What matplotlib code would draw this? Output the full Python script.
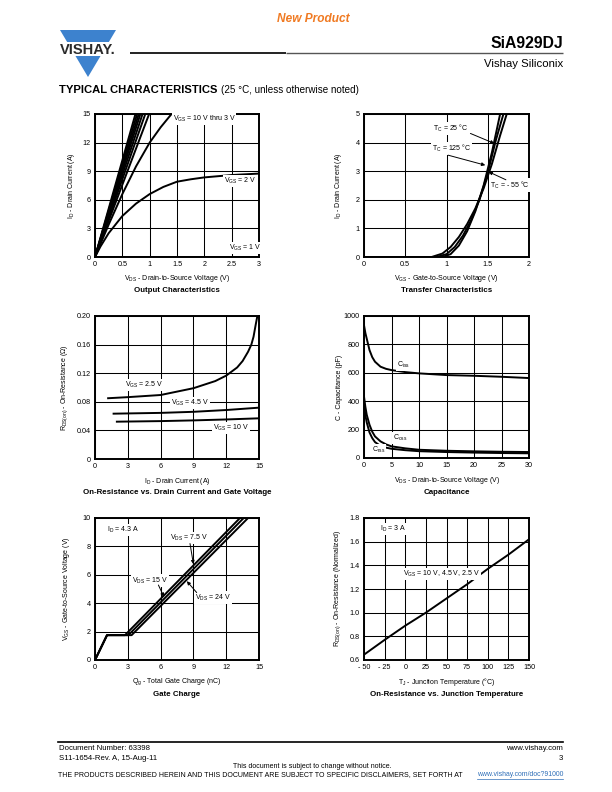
import matplotlib
matplotlib.use("Agg")
import matplotlib.pyplot as plt
from matplotlib.patches import Polygon, Rectangle

plt.rcParams["font.family"] = ["Liberation Sans", "DejaVu Sans"]
plt.rcParams["mathtext.default"] = "regular"

# ---------------- data ----------------
# Output characteristics (VGS = 10 V thru 3 V steep lines reach 15 A at these VDS)
steep_vds_at_15a = [0.74, 0.77, 0.80, 0.83, 0.87, 0.92, 0.99]
vgs3_vds = [0, 0.25, 0.5, 0.75, 1.0, 1.2, 1.4]
vgs3_id = [0, 3.4, 6.6, 9.5, 12.0, 13.6, 15.0]
vgs2_vds = [0, 0.1, 0.25, 0.5, 0.75, 1.0, 1.25, 1.5, 1.75, 2.0, 2.5, 3.0]
vgs2_id = [0, 1.1, 2.5, 4.3, 5.6, 6.6, 7.35, 7.9, 8.15, 8.35, 8.6, 8.75]
vgs1_vds = [0, 3.0]
vgs1_id = [0.03, 0.03]

# Transfer characteristics
t25_vgs = [0, 0.88, 1.0, 1.1, 1.2, 1.3, 1.4, 1.5, 1.6, 1.69]
t25_id = [0, 0, 0.1, 0.35, 0.75, 1.3, 2.0, 2.95, 4.1, 5.0]
tm55_vgs = [0, 0.95, 1.05, 1.15, 1.25, 1.35, 1.45, 1.55, 1.65]
tm55_id = [0, 0, 0.1, 0.4, 0.9, 1.6, 2.5, 3.65, 5.0]
t125_vgs = [0, 0.82, 0.95, 1.05, 1.15, 1.25, 1.35, 1.45, 1.55, 1.65, 1.73]
t125_id = [0, 0, 0.12, 0.35, 0.7, 1.15, 1.7, 2.4, 3.25, 4.25, 5.0]

# On-resistance vs drain current
r25_id = [1.2, 3, 6, 9, 11, 12, 13, 13.5, 14, 14.3, 14.5, 14.7, 14.85]
r25_ohm = [0.085, 0.0865, 0.0895, 0.099, 0.109, 0.1166, 0.128, 0.137, 0.150, 0.160, 0.171, 0.188, 0.20]
r45_id = [1.7, 6, 9, 12, 15]
r45_ohm = [0.0634, 0.0645, 0.066, 0.0685, 0.0718]
r10_id = [2, 6, 9, 12, 15]
r10_ohm = [0.0522, 0.053, 0.054, 0.0553, 0.0569]

# Capacitance
cap_vds = [0, 0.25, 0.5, 1, 1.5, 2, 3, 4, 5, 7.5, 10, 15, 20, 25, 30]
ciss = [935, 880, 840, 760, 710, 678, 643, 628, 619, 605, 596, 584, 579, 572, 563]
coss = [432, 360, 304, 234, 185, 152, 117, 96, 82, 68, 58, 51, 47, 44, 42]
crss = [380, 300, 250, 180, 140, 112, 85, 73, 65, 55, 48, 42, 38, 35, 33]

# Gate charge
qg_75v = [0, 1.1, 2.74, 13.26]
qg_15v = [0, 1.1, 3.05, 13.6]
qg_24v = [0, 1.1, 3.35, 14.0]
vgs_qg = [0, 1.75, 1.75, 10]

# On-resistance vs junction temperature
tj = [-50, -25, 0, 25, 50, 75, 100, 125, 150]
rds_norm = [0.645, 0.77, 0.89, 1.0, 1.12, 1.24, 1.37, 1.49, 1.62]

# ---------------- figure ----------------
W, H = 612, 792
fig = plt.figure(figsize=(W / 100, H / 100), dpi=100)
page = fig.add_axes([0, 0, 1, 1])
page.set_xlim(0, W)
page.set_ylim(H, 0)
page.axis("off")

LW = 1.4
TICK_FS = 5.2
LAB_FS = 5.0
NOTE_FS = 5.0
BOX = dict(boxstyle="square,pad=0.15", fc="white", ec="none")


def make_axes(box):
    l, t, r, b = box
    return fig.add_axes([l / W, 1 - b / H, (r - l) / W, (b - t) / H])


def style(ax, box, xlim, ylim, xticks, yticks, xlabel, ylabel, ylab_px,
          xticklabels=None, yticklabels=None):
    ax.set_xlim(xlim)
    ax.set_ylim(ylim)
    ax.set_xticks(xticks)
    ax.set_yticks(yticks)
    if xticklabels is not None:
        ax.set_xticklabels(xticklabels)
    if yticklabels is not None:
        ax.set_yticklabels(yticklabels)
    ax.grid(True, color="black", linewidth=0.75)
    ax.set_axisbelow(True)
    ax.tick_params(length=0, labelsize=TICK_FS, pad=3)
    for s in ax.spines.values():
        s.set_linewidth(1.4)
    ax.set_xlabel(xlabel, fontsize=LAB_FS)
    ax.set_ylabel(ylabel, fontsize=LAB_FS)
    w = box[2] - box[0]
    h = box[3] - box[1]
    ax.xaxis.set_label_coords(0.5, -16.5 / h)
    ax.yaxis.set_label_coords(-ylab_px / w, 0.5)


def note(ax, x, y, s, ha="left"):
    ax.text(x, y, s, fontsize=NOTE_FS, ha=ha, va="center", bbox=BOX, zorder=5)


def arrow(ax, start, end):
    ax.annotate("", xy=end, xytext=start,
                arrowprops=dict(arrowstyle="-|>", color="black", lw=0.7,
                                mutation_scale=5, shrinkA=0, shrinkB=0),
                zorder=6)


box1 = (95, 114, 259, 257)
box2 = (364, 114, 529, 257)
box3 = (95, 316, 259, 459)
box4 = (364, 316, 529, 458)
box5 = (95, 518, 259, 660)
box6 = (364, 518, 529, 660)

# 1. Output characteristics
ax1 = make_axes(box1)
for x15 in steep_vds_at_15a:
    ax1.plot([0, x15], [0, 15], color="black", lw=LW)
ax1.plot(vgs3_vds, vgs3_id, color="black", lw=LW)
ax1.plot(vgs2_vds, vgs2_id, color="black", lw=LW)
ax1.plot(vgs1_vds, vgs1_id, color="black", lw=LW)
style(ax1, box1, (0, 3), (0, 15), [0, 0.5, 1, 1.5, 2, 2.5, 3], [0, 3, 6, 9, 12, 15],
      "V$_{DS}$ - Drain-to-Source Voltage (V)", "I$_D$ - Drain Current (A)", 18,
      xticklabels=["0", "0.5", "1", "1.5", "2", "2.5", "3"])
note(ax1, 1.42, 14.45, "V$_{GS}$ = 10 V thru 3 V")
note(ax1, 2.36, 8.0, "V$_{GS}$ = 2 V")
note(ax1, 2.45, 0.94, "V$_{GS}$ = 1 V")

# 2. Transfer characteristics
ax2 = make_axes(box2)
ax2.plot(t25_vgs, t25_id, color="black", lw=LW)
ax2.plot(tm55_vgs, tm55_id, color="black", lw=LW)
ax2.plot(t125_vgs, t125_id, color="black", lw=LW)
style(ax2, box2, (0, 2), (0, 5), [0, 0.5, 1, 1.5, 2], [0, 1, 2, 3, 4, 5],
      "V$_{GS}$ - Gate-to-Source Voltage (V)", "I$_D$ - Drain Current (A)", 20,
      xticklabels=["0", "0.5", "1", "1.5", "2"])
note(ax2, 0.84, 4.5, "T$_C$ = 25 °C")
note(ax2, 0.82, 3.8, "T$_C$ = 125 °C")
note(ax2, 1.53, 2.52, "T$_C$ = - 55 °C")
arrow(ax2, (1.29, 4.32), (1.58, 3.97))
arrow(ax2, (1.02, 3.56), (1.47, 3.21))
arrow(ax2, (1.72, 2.7), (1.51, 2.98))

# 3. On-resistance vs drain current
ax3 = make_axes(box3)
ax3.plot(r25_id, r25_ohm, color="black", lw=LW)
ax3.plot(r45_id, r45_ohm, color="black", lw=LW)
ax3.plot(r10_id, r10_ohm, color="black", lw=LW)
style(ax3, box3, (0, 15), (0, 0.20), [0, 3, 6, 9, 12, 15], [0, 0.04, 0.08, 0.12, 0.16, 0.20],
      "I$_D$ - Drain Current (A)", "R$_{DS(on)}$ - On-Resistance (Ω)", 25,
      yticklabels=["0", "0.04", "0.08", "0.12", "0.16", "0.20"])
note(ax3, 2.74, 0.1035, "V$_{GS}$ = 2.5 V")
note(ax3, 6.95, 0.078, "V$_{GS}$ = 4.5 V")
note(ax3, 10.8, 0.043, "V$_{GS}$ = 10 V")

# 4. Capacitance
ax4 = make_axes(box4)
ax4.plot(cap_vds, ciss, color="black", lw=LW)
ax4.plot(cap_vds, coss, color="black", lw=LW)
ax4.plot(cap_vds, crss, color="black", lw=LW)
style(ax4, box4, (0, 30), (0, 1000), [0, 5, 10, 15, 20, 25, 30], [0, 200, 400, 600, 800, 1000],
      "V$_{DS}$ - Drain-to-Source Voltage (V)", "C - Capacitance (pF)", 21)
note(ax4, 6.0, 655, "C$_{iss}$")
note(ax4, 5.3, 141, "C$_{oss}$")
note(ax4, 1.45, 56, "C$_{rss}$")

# 5. Gate charge
ax5 = make_axes(box5)
ax5.plot(qg_75v, vgs_qg, color="black", lw=LW)
ax5.plot(qg_15v, vgs_qg, color="black", lw=LW)
ax5.plot(qg_24v, vgs_qg, color="black", lw=LW)
style(ax5, box5, (0, 15), (0, 10), [0, 3, 6, 9, 12, 15], [0, 2, 4, 6, 8, 10],
      "Q$_g$ - Total Gate Charge (nC)", "V$_{GS}$ - Gate-to-Source Voltage (V)", 23)
note(ax5, 1.1, 9.15, "I$_D$ = 4.3 A")
note(ax5, 6.86, 8.6, "V$_{DS}$ = 7.5 V")
note(ax5, 3.4, 5.6, "V$_{DS}$ = 15 V")
note(ax5, 9.15, 4.4, "V$_{DS}$ = 24 V")
arrow(ax5, (8.69, 8.2), (9.0, 6.75))
arrow(ax5, (5.8, 5.28), (6.3, 4.45))
arrow(ax5, (9.3, 4.75), (8.4, 5.55))

# 6. On-resistance vs junction temperature
ax6 = make_axes(box6)
ax6.plot(tj, rds_norm, color="black", lw=LW)
style(ax6, box6, (-50, 150), (0.6, 1.8), [-50, -25, 0, 25, 50, 75, 100, 125, 150],
      [0.6, 0.8, 1.0, 1.2, 1.4, 1.6, 1.8],
      "T$_J$ - Junction Temperature (°C)", "R$_{DS(on)}$ - On-Resistance (Normalized)", 21,
      xticklabels=["- 50", "- 25", "0", "25", "50", "75", "100", "125", "150"],
      yticklabels=["0.6", "0.8", "1.0", "1.2", "1.4", "1.6", "1.8"])
note(ax6, -30.6, 1.707, "I$_D$ = 3 A")
note(ax6, -2.7, 1.327, "V$_{GS}$ = 10 V, 4.5 V, 2.5 V")

# chart captions
TITLE_FS = 5.7
page.text(177, 290.7, "Output Characteristics", ha="center", va="center", fontsize=TITLE_FS, fontweight="bold")
page.text(447, 290.7, "Transfer Characteristics", ha="center", va="center", fontsize=TITLE_FS, fontweight="bold")
page.text(177, 493, "On-Resistance vs. Drain Current and Gate Voltage", ha="center", va="center",
          fontsize=TITLE_FS, fontweight="bold")
page.text(447, 493, "Capacitance", ha="center", va="center", fontsize=TITLE_FS, fontweight="bold")
page.text(177, 695, "Gate Charge", ha="center", va="center", fontsize=TITLE_FS, fontweight="bold")
page.text(447, 695, "On-Resistance vs. Junction Temperature", ha="center", va="center",
          fontsize=TITLE_FS, fontweight="bold")

# ---------------- page header ----------------
page.text(313, 18.8, "New Product", ha="center", va="center", fontsize=8.6,
          fontweight="bold", style="italic", color="#f07a22")
blue = "#3d82ce"
page.add_patch(Polygon([(60, 30), (116, 30), (88, 77)], closed=True, fc=blue, ec="none"))
page.add_patch(Rectangle((56, 42), 64, 14, fc="white", ec="none"))
page.text(88, 49.5, "VISHAY.", ha="center", va="center", fontsize=10.5,
          fontweight="bold", color="#2a2a2a")
page.plot([130, 286], [53.3, 53.3], color="#111111", lw=1.3, solid_capstyle="butt")
page.plot([286, 563], [53.3, 53.3], color="#555555", lw=1.0, solid_capstyle="butt")
page.text(563, 43.5, "SiA929DJ", ha="right", va="center", fontsize=11.3, fontweight="bold")
page.text(563, 64.3, "Vishay Siliconix", ha="right", va="center", fontsize=8.2)
page.text(59, 89.7, "TYPICAL CHARACTERISTICS", ha="left", va="center", fontsize=8.1, fontweight="bold")
page.text(221, 89.7, "(25 °C, unless otherwise noted)", ha="left", va="center", fontsize=7.1)

# ---------------- page footer ----------------
FOOT_FS = 5.6
page.plot([58, 563], [741.5, 741.5], color="black", lw=1.2)
page.text(59, 748.5, "Document Number: 63398", ha="left", va="center", fontsize=FOOT_FS)
page.text(59, 758, "S11-1654-Rev. A, 15-Aug-11", ha="left", va="center", fontsize=FOOT_FS)
page.text(563, 748.5, "www.vishay.com", ha="right", va="center", fontsize=FOOT_FS)
page.text(563, 758, "3", ha="right", va="center", fontsize=FOOT_FS)
page.text(312, 766.5, "This document is subject to change without notice.", ha="center", va="center",
          fontsize=5.0)
page.text(58, 775, "THE PRODUCTS DESCRIBED HEREIN AND THIS DOCUMENT ARE SUBJECT TO SPECIFIC "
          "DISCLAIMERS, SET FORTH AT", ha="left", va="center", fontsize=5.05)
link = page.text(563, 775, "www.vishay.com/doc?91000", ha="right", va="center", fontsize=4.95,
                 color="#2f6fb8")
renderer = fig.canvas.get_renderer()
bb = link.get_window_extent(renderer)
x0, x1 = bb.x0, bb.x1
page.plot([x0, x1], [779.3, 779.3], color="#2f6fb8", lw=0.5)

fig.savefig("out.png", dpi=100)
